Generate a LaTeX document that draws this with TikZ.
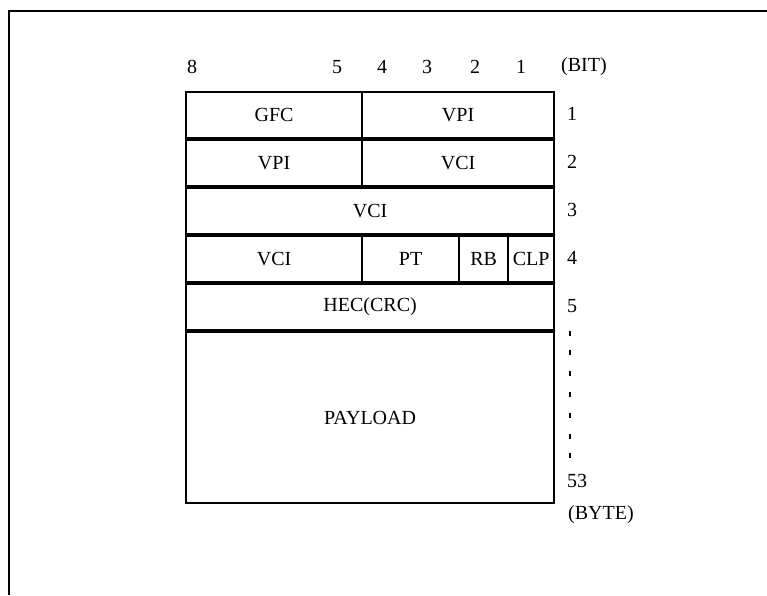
\documentclass[tikz,border=0pt]{standalone}
\usepackage{fontspec}
\setmainfont{Liberation Serif}
\begin{document}
\begin{tikzpicture}[x=1pt,y=-1pt,
  txt/.style={font=\fontsize{20}{24}\selectfont, inner sep=0pt},
  cell/.style={draw, line width=2.2pt, anchor=north west, inner sep=0pt,
     font=\fontsize{20}{24}\selectfont, minimum height=46pt},
  frameline/.style={line width=2.5pt},
  tick/.style={line width=1.8pt}]
\useasboundingbox (0,0) rectangle (767,595);
% outer frame
\coordinate (fbl) at (9,595);
\coordinate (ftl) at (9,11);
\coordinate (ftr) at (767,11);
\draw[frameline] (fbl) -- (ftl) -- (ftr);
% bit header
\node[txt] (b8) at (192,67) {8};
\node[txt] (b5) at (337,67) {5};
\node[txt] (b4) at (382,67) {4};
\node[txt] (b3) at (427,67) {3};
\node[txt] (b2) at (475,67) {2};
\node[txt] (b1) at (521,67) {1};
\node[txt, anchor=west] (bit) at (561,67) {(BIT)};
% row 1
\node[cell, minimum width=176pt] (gfc) at (185,91) {GFC};
\node[cell, minimum width=192pt] (vpi1) at (361,91) {VPI};
% row 2
\node[cell, minimum width=176pt] (vpi2) at (185,139) {VPI};
\node[cell, minimum width=192pt] (vci2) at (361,139) {VCI};
% row 3
\node[cell, minimum width=368pt] (vci3) at (185,187) {VCI};
% row 4
\node[cell, minimum width=176pt] (vci4) at (185,235) {VCI};
\node[cell, minimum width=97pt] (pt) at (361,235) {PT};
\node[cell, minimum width=49pt] (rb) at (458,235) {RB};
\node[cell, minimum width=46pt] (clp) at (507,235) {CLP};
% row 5
\node[cell, minimum width=368pt] (hec) at (185,283) {HEC(CRC)};
% payload
\node[cell, minimum width=368pt, minimum height=171pt] (pay) at (185,331) {PAYLOAD};
% byte labels
\node[txt, anchor=west] (r1) at (567,114) {1};
\node[txt, anchor=west] (r2) at (567,162) {2};
\node[txt, anchor=west] (r3) at (567,210) {3};
\node[txt, anchor=west] (r4) at (567,258) {4};
\node[txt, anchor=west] (r5) at (567,306) {5};
\foreach \yy in {333,352,373,394,415,436,455}
  \draw[tick] (570,\yy-2.5) -- (570,\yy+2.5);
\node[txt, anchor=west] (r53) at (567,481) {53};
\node[txt, anchor=west] (byte) at (568,515) {(BYTE)};
\end{tikzpicture}
\end{document}
